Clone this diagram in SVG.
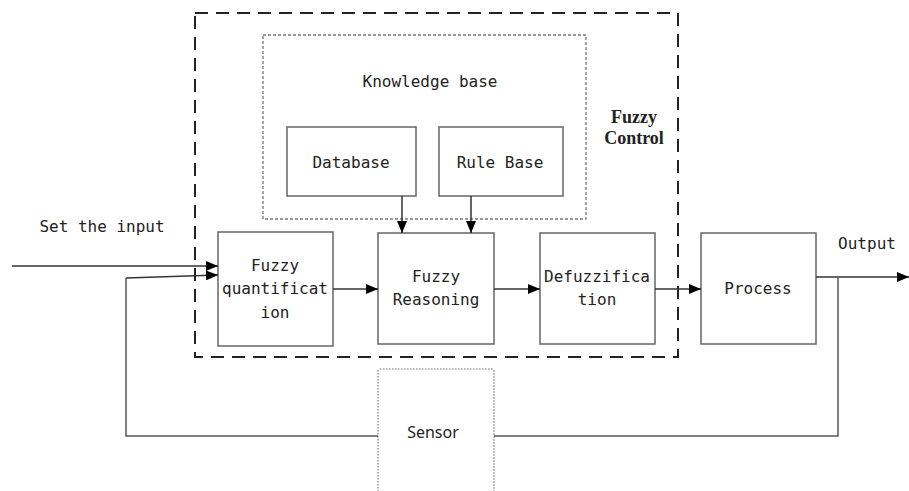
<svg xmlns="http://www.w3.org/2000/svg" width="909" height="491" viewBox="0 0 909 491">
<style>
.box{fill:#fff;stroke:#666;stroke-width:1.5}
.t{font-family:"DejaVu Sans Mono","Liberation Mono",monospace;font-size:16px;fill:#222;text-anchor:middle;dominant-baseline:central}
.ln{fill:none;stroke:#555;stroke-width:1.5}
.ar{fill:none;stroke:#333;stroke-width:1.5;marker-end:url(#ah)}
</style>
<defs>
<marker id="ah" viewBox="0 0 12 10" refX="12" refY="5" markerWidth="12" markerHeight="10" markerUnits="userSpaceOnUse" orient="auto">
<path d="M0,0 L12,5 L0,10 Z" fill="#000"/>
</marker>
</defs>
<rect width="909" height="491" fill="#fff"/>
<g id="fuzzy-control">
<rect x="195" y="13" width="483" height="344" fill="none" stroke="#222" stroke-width="2" stroke-dasharray="13,8"/>
<text x="634" y="117" font-family="Liberation Serif,serif" font-weight="bold" font-size="18" fill="#222" text-anchor="middle" dominant-baseline="central">Fuzzy</text>
<text x="634" y="138" font-family="Liberation Serif,serif" font-weight="bold" font-size="18" fill="#222" text-anchor="middle" dominant-baseline="central">Control</text>
</g>
<g id="knowledge-base">
<rect x="263" y="35" width="323" height="184" fill="none" stroke="#777" stroke-width="1.3" stroke-dasharray="3,2"/>
<text class="t" x="430" y="81">Knowledge base</text>
</g>
<g id="database">
<rect class="box" x="287" y="127" width="129" height="69"/>
<text class="t" x="351" y="162">Database</text>
</g>
<g id="rule-base">
<rect class="box" x="439" y="127" width="124" height="69"/>
<text class="t" x="500" y="162">Rule Base</text>
</g>
<g id="fuzzy-quantification">
<rect class="box" x="218" y="232" width="115" height="114"/>
<text class="t" x="275" y="265">Fuzzy</text>
<text class="t" x="275" y="288">quantificat</text>
<text class="t" x="275" y="312">ion</text>
</g>
<g id="fuzzy-reasoning">
<rect class="box" x="378" y="233" width="116" height="111"/>
<text class="t" x="436" y="276">Fuzzy</text>
<text class="t" x="436" y="299">Reasoning</text>
</g>
<g id="defuzzification">
<rect class="box" x="540" y="233" width="115" height="111"/>
<text class="t" x="597" y="276">Defuzzifica</text>
<text class="t" x="597" y="299">tion</text>
</g>
<g id="process">
<rect class="box" x="701" y="233" width="115" height="111"/>
<text class="t" x="758" y="288">Process</text>
</g>
<g id="sensor">
<rect x="378" y="369" width="116" height="140" rx="2" fill="#fff" stroke="#777" stroke-width="1.2" stroke-dasharray="1.5,1.5"/>
<text x="433" y="432" font-family="Noto Sans,Liberation Sans,sans-serif" font-size="16" fill="#222" text-anchor="middle" dominant-baseline="central">Sensor</text>
</g>
<g id="labels">
<text class="t" x="102" y="226">Set the input</text>
<text class="t" x="867" y="243">Output</text>
</g>
<g id="connectors">
<path class="ar" d="M12,266 L218,266"/>
<path class="ar" d="M816,277 L909,277"/>
<path class="ln" d="M838,277 L838,436 L494,436"/>
<path class="ln" d="M378,436 L126,436 L126,278"/>
<path class="ar" d="M126,278 L218,275"/>
<path class="ar" d="M402,196 L402,233"/>
<path class="ar" d="M471,196 L471,233"/>
<path class="ar" d="M333,289 L378,289"/>
<path class="ar" d="M494,289 L540,289"/>
<path class="ar" d="M655,289 L701,289"/>
</g>
</svg>
